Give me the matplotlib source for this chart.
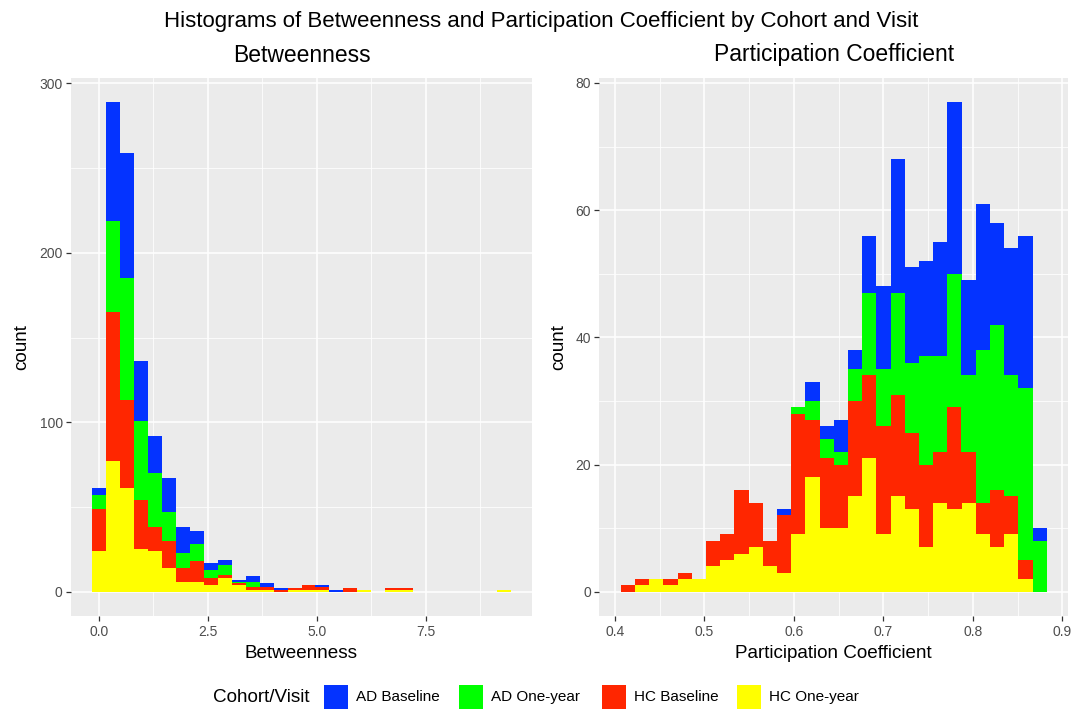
import matplotlib
matplotlib.use('Agg')
import matplotlib.pyplot as plt
from matplotlib.patches import Rectangle
import numpy as np

plt.rcParams['font.family'] = ['Liberation Sans', 'DejaVu Sans']

W, H = 1083, 710

# ---------------- data ----------------
groups = ['AD Baseline', 'AD One-year', 'HC Baseline', 'HC One-year']
colors = ['#0433FF', '#00FF00', '#FF2600', '#FFFF00']

# Betweenness: 30 bins, centres from betw_min to betw_max
betw_min, betw_max = 0.0, 9.3
betw_ad_base = [4, 70, 74, 35, 22, 20, 15, 8, 4, 3, 1, 3, 2, 1, 0, 0, 1, 1, 0, 0, 0, 0, 0, 0, 0, 0, 0, 0, 0, 0]
betw_ad_one = [8, 54, 72, 47, 32, 17, 9, 10, 5, 6, 1, 3, 0, 0, 0, 0, 0, 0, 0, 0, 0, 0, 0, 0, 0, 0, 0, 0, 0, 0]
betw_hc_base = [25, 88, 52, 29, 14, 16, 8, 12, 4, 2, 1, 2, 2, 1, 1, 3, 2, 0, 2, 0, 0, 1, 1, 0, 0, 0, 0, 0, 0, 0]
betw_hc_one = [24, 77, 61, 25, 24, 14, 6, 6, 4, 8, 4, 1, 1, 0, 1, 1, 1, 0, 0, 1, 0, 1, 1, 0, 0, 0, 0, 0, 0, 1]

# Participation coefficient: 30 bins, centres from pc_min to pc_max
pc_min, pc_max = 0.4143, 0.8745
pc_ad_base = [0, 0, 0, 0, 0, 0, 0, 0, 0, 0, 0, 1, 0, 3, 2, 5, 3, 9, 13, 21, 15, 15, 18, 27, 15, 23, 16, 20, 24, 2]
pc_ad_one = [0, 0, 0, 0, 0, 0, 0, 0, 0, 0, 0, 0, 1, 3, 3, 2, 5, 13, 9, 16, 11, 17, 15, 21, 12, 24, 26, 19, 27, 8]
pc_hc_base = [1, 1, 0, 1, 1, 0, 4, 4, 10, 7, 4, 9, 19, 9, 11, 10, 15, 13, 17, 16, 12, 13, 8, 16, 8, 5, 9, 6, 3, 0]
pc_hc_one = [0, 1, 2, 1, 2, 2, 4, 5, 6, 7, 4, 3, 9, 18, 10, 10, 15, 21, 9, 15, 13, 7, 14, 13, 14, 9, 7, 9, 2, 0]

betw_ticks = [0.0, 2.5, 5.0, 7.5]
betw_ticklabels = ['0.0', '2.5', '5.0', '7.5']
betw_yticks = [0, 100, 200, 300]
pc_ticks = [0.4, 0.5, 0.6, 0.7, 0.8, 0.9]
pc_ticklabels = ['0.4', '0.5', '0.6', '0.7', '0.8', '0.9']
pc_yticks = [0, 20, 40, 60, 80]

# ---------------- figure ----------------
fig = plt.figure(figsize=(W / 100, H / 100), dpi=100)
fig.patch.set_facecolor('white')

top_px, bot_px = 77.5, 616.2


def px_axes(x0, x1):
    return fig.add_axes([x0 / W, 1 - bot_px / H, (x1 - x0) / W, (bot_px - top_px) / H])


def draw_panel(ax, vmin, vmax, series, xticks, xticklabels, yticks):
    nb = len(series[0])
    w = (vmax - vmin) / (nb - 1)
    centres = vmin + w * np.arange(nb)
    # stacking: last group at bottom
    bottom = np.zeros(nb)
    for s, c in list(zip(series, colors))[::-1]:
        s = np.asarray(s, dtype=float)
        ax.bar(centres, s, width=w, bottom=bottom, color=c, linewidth=0, align='center', zorder=2)
        bottom += s
    ax.set_facecolor('#EBEBEB')
    for sp in ax.spines.values():
        sp.set_visible(False)
    ax.set_xticks(xticks)
    ax.set_xticklabels(xticklabels)
    ax.set_yticks(yticks)
    ax.set_yticklabels([str(t) for t in yticks])
    xt = np.asarray(xticks)
    yt = np.asarray(yticks)
    dx = xt[1] - xt[0]
    dy = yt[1] - yt[0]
    xminor = np.concatenate([[xt[0] - dx / 2], (xt[:-1] + xt[1:]) / 2, [xt[-1] + dx / 2]])
    yminor = np.concatenate([[yt[0] - dy / 2], (yt[:-1] + yt[1:]) / 2, [yt[-1] + dy / 2]])
    ax.set_xticks(xminor, minor=True)
    ax.set_yticks(yminor, minor=True)
    # limits after ticks (ggplot-style 5% expansion)
    lo, hi = vmin - w / 2, vmax + w / 2
    r = hi - lo
    ax.set_xlim(lo - 0.05 * r, hi + 0.05 * r)
    ymax = bottom.max()
    ax.set_ylim(-0.05 * ymax, 1.05 * ymax)
    ax.tick_params(which='minor', length=0)
    ax.tick_params(which='major', length=3.5, width=0.9, color='#333333',
                   labelcolor='#4D4D4D', labelsize=10, pad=2.5)
    ax.grid(which='major', color='white', linewidth=1.1, zorder=0)
    ax.grid(which='minor', color='white', linewidth=0.55, zorder=0)
    ax.set_axisbelow(True)


ax1 = px_axes(71, 532)
draw_panel(ax1, betw_min, betw_max, [betw_ad_base, betw_ad_one, betw_hc_base, betw_hc_one],
           betw_ticks, betw_ticklabels, betw_yticks)
ax2 = px_axes(599.4, 1068)
draw_panel(ax2, pc_min, pc_max, [pc_ad_base, pc_ad_one, pc_hc_base, pc_hc_one],
           pc_ticks, pc_ticklabels, pc_yticks)

# titles
fig.text(541.5 / W, 1 - 22 / H, 'Histograms of Betweenness and Participation Coefficient by Cohort and Visit',
         ha='center', va='center', fontsize=16, color='black')
fig.text(301.5 / W, 1 - 55 / H, 'Betweenness', ha='center', va='center', fontsize=16.5)
fig.text(833.7 / W, 1 - 55 / H, 'Participation Coefficient', ha='center', va='center', fontsize=16.5)

# axis titles
fig.text(301.5 / W, 1 - 653 / H, 'Betweenness', ha='center', va='center', fontsize=13.6)
fig.text(833.7 / W, 1 - 653 / H, 'Participation Coefficient', ha='center', va='center', fontsize=13.6)
fig.text(22 / W, 1 - 347 / H, 'count', ha='center', va='center', fontsize=13.6, rotation=90)
fig.text(559 / W, 1 - 347 / H, 'count', ha='center', va='center', fontsize=13.6, rotation=90)

# legend (manual, ggplot style: title left of horizontal keys)
ly = 697
fig.text(213 / W, 1 - ly / H, 'Cohort/Visit', ha='left', va='center', fontsize=13.6)
key_x = [324, 459, 602, 737]
ks = 24
for kx, c, g in zip(key_x, colors, groups):
    fig.add_artist(Rectangle((kx / W, 1 - (ly + ks / 2) / H), ks / W, ks / H,
                             transform=fig.transFigure, facecolor=c, edgecolor='none'))
    fig.text((kx + ks + 8) / W, 1 - ly / H, g, ha='left', va='center', fontsize=11)

fig.savefig('out.png', dpi=100, facecolor='white')
